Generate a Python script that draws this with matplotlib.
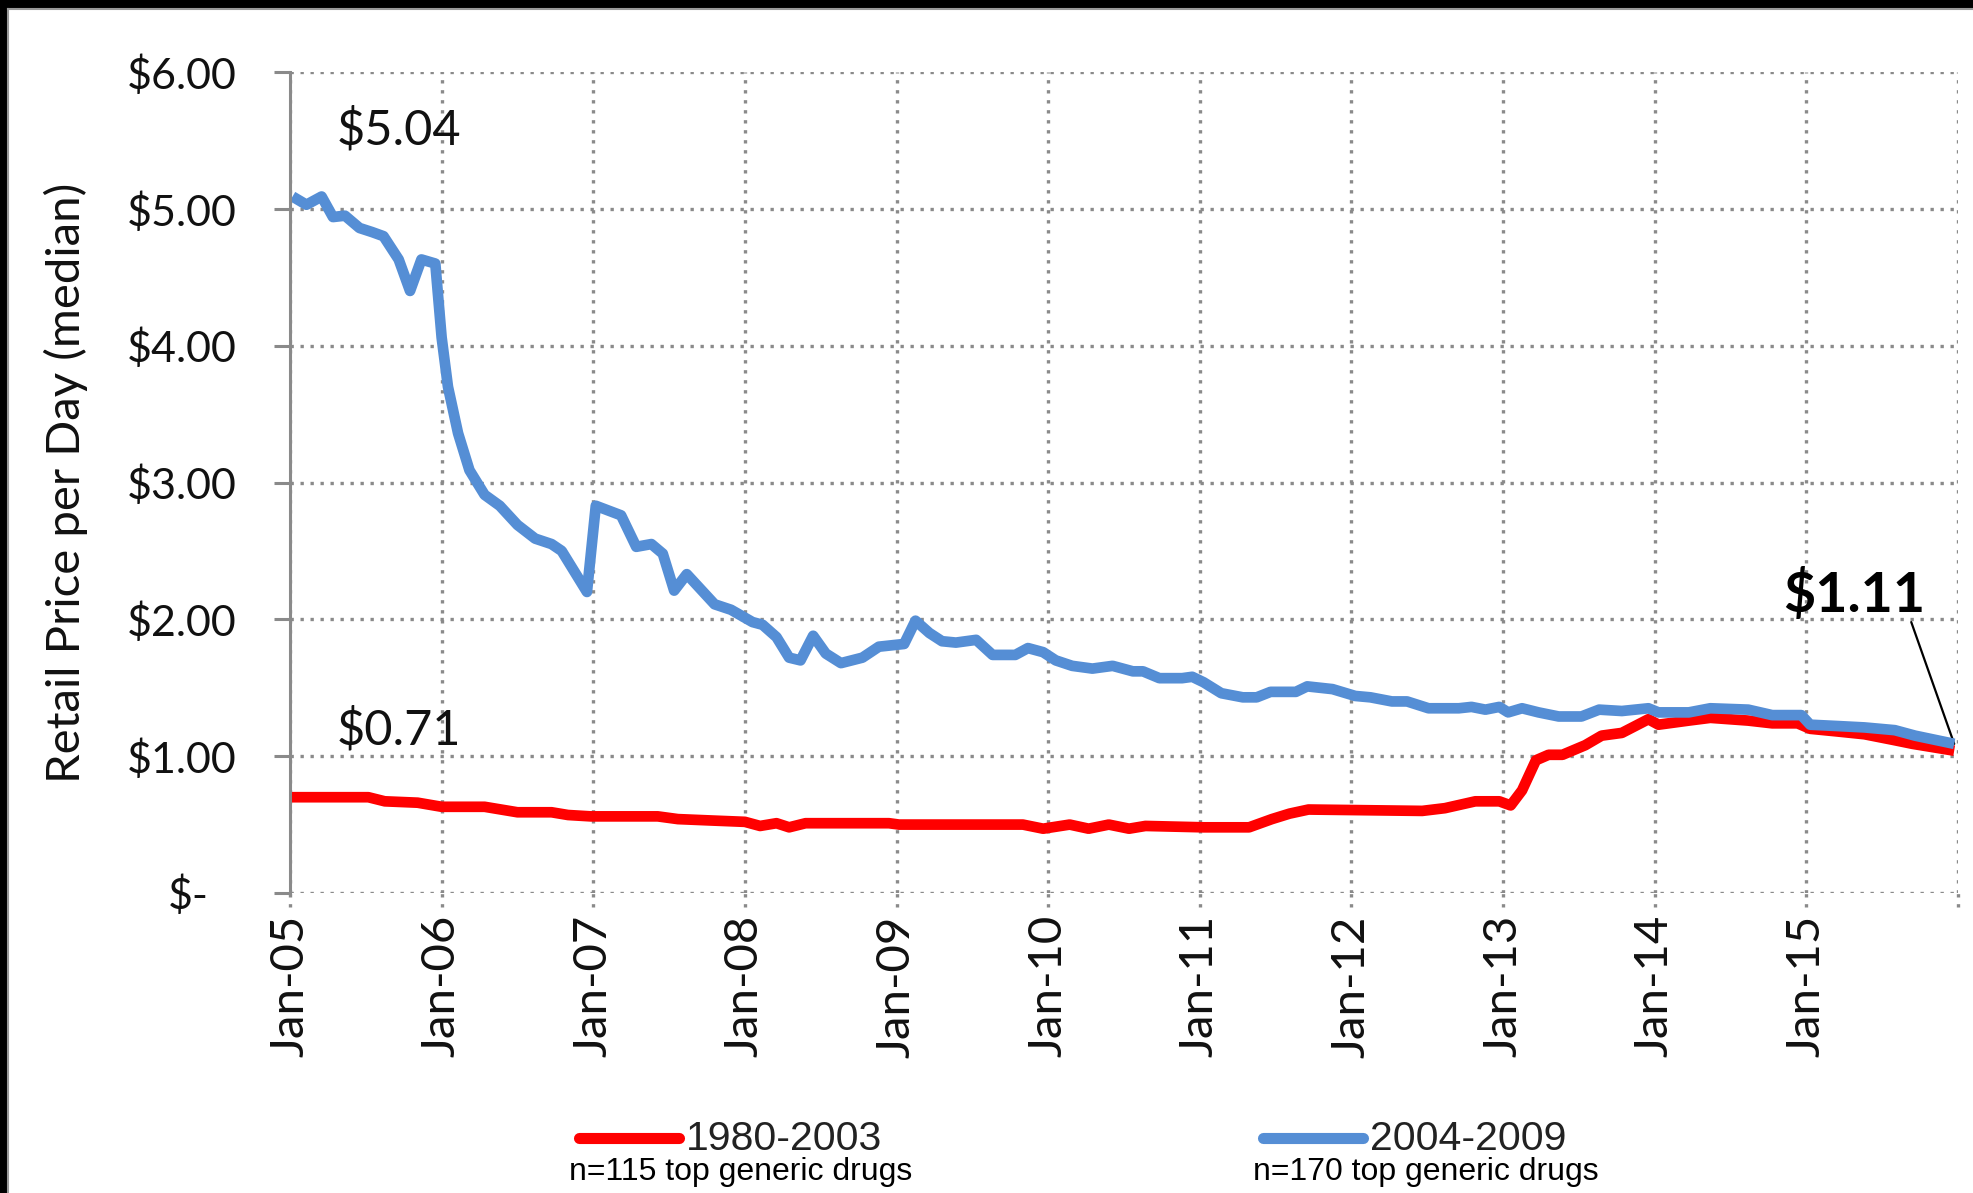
import matplotlib
matplotlib.use('Agg')
import matplotlib.pyplot as plt
from matplotlib.lines import Line2D
from matplotlib.patches import Rectangle
import matplotlib.transforms as mtransforms

# months since Jan-05, values in $ per day (median)
blue_months = [0.2, 1.3, 2.5, 3.4, 4.35, 5.5, 6.5, 7.4, 8.6, 9.5, 10.4, 11.5, 12.0, 12.5,
               13.3, 14.2, 15.4, 16.6, 18.0, 19.4, 20.7, 21.5, 23.5, 24.2, 26.2, 27.4,
               28.6, 29.5, 30.4, 31.4, 33.6, 34.9, 36.6, 37.4, 38.5, 39.5, 40.4, 41.4,
               42.4, 43.6, 45.3, 46.6, 48.6, 49.5, 50.6, 51.6, 52.7, 54.3, 55.6, 57.4,
               58.4, 59.6, 60.6, 61.9, 63.5, 65.1, 66.7, 67.5, 68.8, 70.6, 71.4, 72.3,
               73.7, 75.4, 76.5, 77.6, 79.6, 80.5, 82.5, 84.3, 85.5, 87.2, 88.4, 90.1,
               92.5, 93.5, 94.6, 95.7, 96.4, 97.5, 98.8, 100.4, 102.2, 103.6, 105.4,
               107.5, 108.3, 110.7, 112.4, 115.4, 117.3, 119.6, 120.3, 122.5, 124.6,
               127.0, 128.6, 131.7]
blue_values = [5.09, 5.03, 5.09, 4.94, 4.95, 4.86, 4.83, 4.80, 4.63, 4.40, 4.63, 4.60, 4.06, 3.70,
               3.36, 3.09, 2.91, 2.83, 2.69, 2.59, 2.55, 2.50, 2.20, 2.83, 2.76, 2.53,
               2.55, 2.48, 2.21, 2.33, 2.11, 2.07, 1.98, 1.96, 1.87, 1.72, 1.70, 1.88,
               1.75, 1.68, 1.72, 1.80, 1.82, 1.99, 1.90, 1.84, 1.83, 1.85, 1.74, 1.74,
               1.79, 1.76, 1.70, 1.66, 1.64, 1.66, 1.62, 1.62, 1.57, 1.57, 1.58, 1.54,
               1.46, 1.43, 1.43, 1.47, 1.47, 1.51, 1.49, 1.44, 1.43, 1.40, 1.40, 1.35,
               1.35, 1.36, 1.34, 1.36, 1.32, 1.35, 1.32, 1.29, 1.29, 1.34, 1.33,
               1.35, 1.32, 1.32, 1.35, 1.34, 1.30, 1.30, 1.23, 1.22, 1.21,
               1.19, 1.15, 1.09]

red_months = [0.1, 6.2, 7.5, 10.1, 12.0, 15.4, 18.0, 20.7, 22.0, 23.8, 29.1, 30.7, 33.3,
              36.0, 37.2, 38.5, 39.5, 40.8, 47.4, 48.2, 58.0, 59.6, 61.7, 63.2, 64.8,
              66.4, 67.7, 72.3, 75.9, 77.7, 79.1, 80.6, 89.6, 91.4, 93.8, 95.7, 96.6,
              97.5, 98.6, 99.6, 100.7, 102.5, 103.8, 105.4, 107.5, 108.3, 110.7, 112.4,
              115.4, 117.3, 119.3, 120.3, 122.5, 124.6, 126.8, 128.4, 131.7]
red_values = [0.70, 0.70, 0.67, 0.66, 0.63, 0.63, 0.59, 0.59, 0.57, 0.56, 0.56, 0.54, 0.53,
              0.52, 0.49, 0.51, 0.48, 0.51, 0.51, 0.50, 0.50, 0.47, 0.50, 0.47, 0.50,
              0.47, 0.49, 0.48, 0.48, 0.54, 0.58, 0.61, 0.60, 0.62, 0.67, 0.67, 0.64,
              0.75, 0.97, 1.01, 1.01, 1.08, 1.15, 1.17, 1.27, 1.23, 1.26, 1.28,
              1.26, 1.24, 1.24, 1.20, 1.18, 1.16, 1.12, 1.09, 1.04]

tick_months = [0, 12, 24, 36, 48, 60, 72, 84, 96, 108, 120, 132]
tick_labels = ['Jan-05', 'Jan-06', 'Jan-07', 'Jan-08', 'Jan-09', 'Jan-10', 'Jan-11',
               'Jan-12', 'Jan-13', 'Jan-14', 'Jan-15', '']
y_ticks = [0, 1, 2, 3, 4, 5, 6]
y_labels = ['', '$1.00', '$2.00', '$3.00', '$4.00', '$5.00', '$6.00']

series_names = ['1980-2003', '2004-2009']
series_notes = ['n=115 top generic drugs', 'n=170 top generic drugs']
RED = '#ff0000'
BLUE = '#558ed5'
GRID = '#8a8a8a'

main_font = ['Lato', 'DejaVu Sans']
narrow_font = ['Liberation Sans Narrow', 'Liberation Sans', 'DejaVu Sans']
plt.rcParams['font.family'] = main_font

fig = plt.figure(figsize=(19.74, 11.93), dpi=100)
ax = fig.add_axes([290 / 1974, 300 / 1193, 1668 / 1974, 821 / 1193])

ax.plot(red_months, red_values, color=RED, lw=7.7, solid_joinstyle='round',
        solid_capstyle='butt', zorder=3)
ax.plot(blue_months, blue_values, color=BLUE, lw=7.7, solid_joinstyle='round',
        solid_capstyle='butt', zorder=4)

ax.set_xlim(0, 132)
ax.set_ylim(0, 6)
ax.set_xticks(tick_months)
ax.set_xticklabels(tick_labels, rotation=90, fontsize=34, color='#111111')
ax.set_yticks(y_ticks)
ax.set_yticklabels(y_labels, fontsize=31, color='#111111')
ax.tick_params(axis='x', length=0, pad=16)
ax.tick_params(axis='y', length=11.5, width=2.2, color=GRID, direction='out', pad=27)

ax.grid(True, color=GRID, lw=2.4, linestyle=(0, (1, 2)))
# dotted tick marks under the x axis
ax.vlines(tick_months, -0.1, 0, colors=GRID, lw=2.4, linestyles=[(0, (1, 2))],
          clip_on=False)
for side in ['top', 'right', 'bottom']:
    ax.spines[side].set_visible(False)
ax.spines['left'].set_color(GRID)
ax.spines['left'].set_linewidth(2.2)
ax.spines['left'].set_zorder(5)

# accounting style zero label
zero_tr = mtransforms.blended_transform_factory(ax.transAxes, ax.transData)
ax.text(-0.049, -0.02, '$-', transform=zero_tr, ha='right', va='center', fontsize=31,
        color='#111111')

ax.set_ylabel('Retail Price per Day (median)', fontsize=34, color='#111111')
ax.yaxis.set_label_coords(-0.121, 0.5)

ax.text(3.7, 5.58, '$5.04', fontsize=35, ha='left', va='center', color='#111111')
ax.text(3.7, 1.19, '$0.71', fontsize=35, ha='left', va='center', color='#111111')
ax.text(118.2, 2.18, '$1.11', fontsize=40, fontweight='bold', ha='left', va='center',
        color='black')
ax.annotate('', xy=(blue_months[-1], blue_values[-1]), xytext=(128.3, 1.98),
            arrowprops=dict(arrowstyle='-', color='black', lw=1.6, shrinkA=0, shrinkB=0))

# legend drawn at the bottom of the figure
W, H = 1974, 1193
for i, (col, name, note) in enumerate(zip([RED, BLUE], series_names, series_notes)):
    x0 = [579, 1263][i]
    fig.add_artist(Line2D([x0 / W, (x0 + 100) / W], [55 / H, 55 / H], color=col, lw=8,
                          solid_capstyle='round', transform=fig.transFigure))
    fig.text((x0 + 107) / W, 54 / H, name, fontsize=29.5, ha='left', va='center',
             family=narrow_font, color='#222222')
    fig.text((x0 - 10) / W, 21 / H, note, fontsize=23, ha='left', va='center',
             family=narrow_font, color='black')

# black frame of the screenshot
fig.add_artist(Rectangle((0, 1 - 8 / H), 1, 8 / H, color='black', transform=fig.transFigure))
fig.add_artist(Rectangle((0, 0), 7 / W, 1, color='black', transform=fig.transFigure))
fig.add_artist(Line2D([8 / W, 8 / W], [0, 1 - 9 / H], color='#9a9a9a', lw=1.5,
                      transform=fig.transFigure))
fig.add_artist(Line2D([8 / W, 1], [1 - 9 / H, 1 - 9 / H], color='#9a9a9a', lw=1.5,
                      transform=fig.transFigure))

fig.savefig('out.png', dpi=100)
